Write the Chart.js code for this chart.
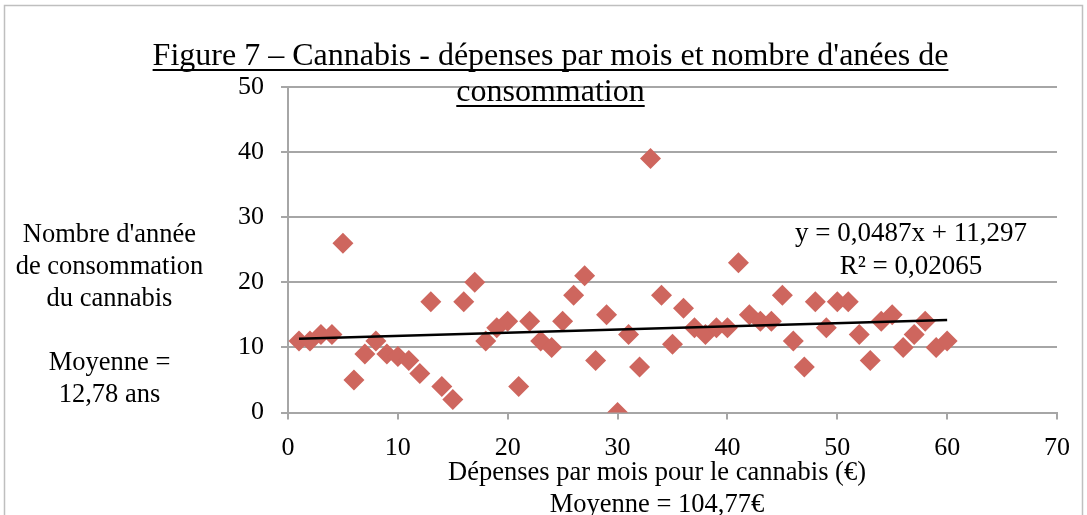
<!DOCTYPE html>
<html>
<head>
<meta charset="utf-8">
<script src="https://cdn.jsdelivr.net/npm/chart.js@4.4.0/dist/chart.umd.min.js"></script>
<style>
  html, body { margin: 0; padding: 0; background: #fff; }
  #wrap { position: relative; width: 1087px; height: 515px; }
</style>
</head>
<body>
<div id="wrap"><canvas id="c"></canvas></div>
<script>
// ---- Data ----
const xValues = [1,2,3,4,5,6,7,8,9,10,11,12,13,14,15,16,17,18,19,20,21,22,23,24,25,26,27,28,29,30,31,32,33,34,35,36,37,38,39,40,41,42,43,44,45,46,47,48,49,50,51,52,53,54,55,56,57,58,59,60];
const yValues = [11,11,12,12,26,5,9,11,9,8.6,8,6,17,4,2,17,20,11,13,14,4,14,11,10,14,18,21,8,15,0,12,7,39,18,10.5,16,13,12,13,13,23,15,14,14,18,11,7,17,13,17,17,12,8,14,15,10,12,14,10,11];
const trendSlope = 0.0487;
const trendIntercept = 11.297;
const xTicks = [0,10,20,30,40,50,60,70];
const yTicks = [0,10,20,30,40,50];

const titleLines = ["Figure 7 – Cannabis - dépenses par mois et nombre d'anées de", "consommation"];
const yTitleLines = ["Nombre d'année", "de consommation", "du cannabis", "", "Moyenne =", "12,78 ans"];
const xTitleLines = ["Dépenses par mois pour le cannabis (€)", "Moyenne = 104,77€"];
const trendLabelLines = ["y = 0,0487x + 11,297", "R² = 0,02065"];

const points = xValues.map((x, i) => ({ x: x, y: yValues[i] }));
const xMinData = xValues[0], xMaxData = xValues[xValues.length - 1];
const trendPoints = [
  { x: xMinData, y: trendSlope * xMinData + trendIntercept },
  { x: xMaxData, y: trendSlope * xMaxData + trendIntercept }
];

const SERIF = "'Liberation Serif', 'Times New Roman', serif";

const decor = {
  id: 'decor',
  beforeDraw(chart) {
    const ctx = chart.ctx;
    ctx.save();
    ctx.strokeStyle = '#BFBFBF';
    ctx.lineWidth = 1.5;
    ctx.strokeRect(4.5, 5.5, 1078, 540);
    ctx.restore();
  },
  afterDraw(chart) {
    const ctx = chart.ctx;
    ctx.save();
    ctx.fillStyle = '#000';
    ctx.textBaseline = 'alphabetic';
    ctx.textAlign = 'center';
    // Title with underline
    ctx.font = '32px ' + SERIF;
    const tY = [65, 101];
    titleLines.forEach((t, i) => {
      const cx = 550.5;
      ctx.fillText(t, cx, tY[i]);
      const w = ctx.measureText(t).width;
      ctx.fillRect(cx - w / 2, tY[i] + 4, w, 2);
    });
    // Y title
    ctx.font = '26.5px ' + SERIF;
    yTitleLines.forEach((t, i) => {
      ctx.fillText(t, 109.5, 241.5 + i * 32);
    });
    // X title
    xTitleLines.forEach((t, i) => {
      ctx.fillText(t, 657, 480 + i * 32);
    });
    // Trend label
    ctx.font = '27px ' + SERIF;
    trendLabelLines.forEach((t, i) => {
      ctx.fillText(t, 911, 240.5 + i * 33);
    });
    ctx.restore();
  }
};

new Chart(document.getElementById('c'), {
  type: 'scatter',
  data: {
    datasets: [
      {
        type: 'line',
        data: trendPoints,
        borderColor: '#000',
        borderWidth: 2.5,
        pointRadius: 0,
        fill: false,
        order: 0
      },
      {
        data: points,
        pointStyle: 'rectRot',
        pointRadius: 10.5,
        pointHoverRadius: 10.5,
        backgroundColor: 'rgb(206,102,94)',
        borderColor: 'rgb(206,102,94)',
        borderWidth: 0,
        order: 1
      }
    ]
  },
  options: {
    responsive: true,
    maintainAspectRatio: false,
    animation: false,
    layout: { padding: { left: 0, top: 87, right: 30, bottom: 0 } },
    plugins: { legend: { display: false }, tooltip: { enabled: false }, title: { display: false } },
    scales: {
      x: {
        type: 'linear',
        min: 0, max: 70,
        afterBuildTicks: (s) => { s.ticks = xTicks.map(v => ({ value: v })); },
        afterFit: (s) => { s.height = 102.5; },
        grid: { drawOnChartArea: false, drawTicks: true, tickLength: 7, color: '#A6A6A6', lineWidth: 2 },
        border: { display: true, color: '#A6A6A6', width: 2 },
        ticks: { color: '#000', font: { family: SERIF, size: 26 }, padding: 13, maxRotation: 0 }
      },
      y: {
        type: 'linear',
        min: 0, max: 50,
        afterBuildTicks: (s) => { s.ticks = yTicks.map(v => ({ value: v })); },
        afterFit: (s) => { s.width = 288; },
        grid: { drawOnChartArea: true, drawTicks: true, tickLength: 7, color: '#A6A6A6', lineWidth: 2 },
        border: { display: true, color: '#A6A6A6', width: 2 },
        ticks: { color: '#000', font: { family: SERIF, size: 26 }, padding: 17 }
      }
    }
  },
  plugins: [decor]
});
</script>
</body>
</html>
